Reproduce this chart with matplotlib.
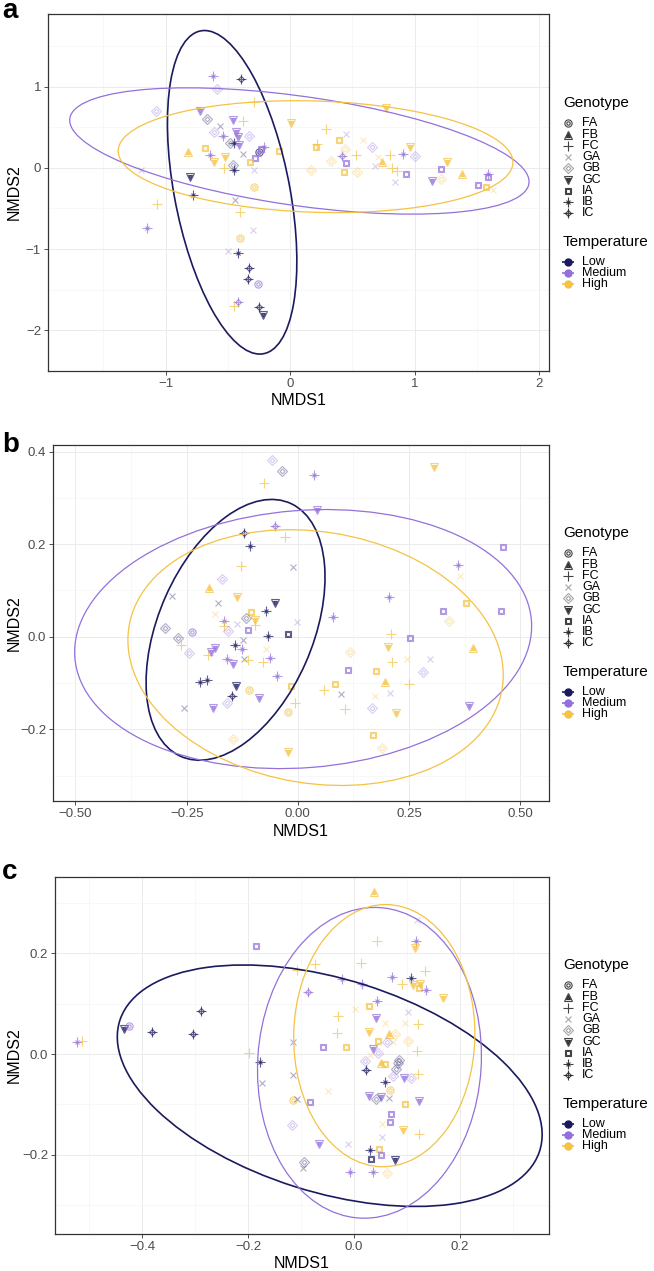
import numpy as np
import matplotlib
matplotlib.use("Agg")
import matplotlib.pyplot as plt
from matplotlib.patches import Ellipse
from matplotlib.lines import Line2D
from matplotlib.ticker import MultipleLocator, FixedLocator

plt.rcParams['font.family'] = ['Liberation Sans', 'DejaVu Sans']

W, H = 654, 1271

temps = ['Low', 'Medium', 'High']
temp_colors = {'Low': '#1B1A5E', 'Medium': '#9370DB', 'High': '#F5C242'}
genotypes = ['FA', 'FB', 'FC', 'GA', 'GB', 'GC', 'IA', 'IB', 'IC']

# ---- panel a: NMDS scores (x, y, temperature, genotype)
a_x = [-0.62, -0.39, -0.59, -0.29, -1.08, -0.72, -0.67, -0.46, -0.38, -0.56,
       -0.61, -0.43, -0.54, -0.33, -0.42, -0.48, -0.45, -0.41, -0.82, -0.68,
       -0.64, -0.61, -0.52, -0.53, -0.38, -0.25, -0.28, -0.21, -0.23, -0.26,
       -0.32, -0.46, -0.45, -0.29, -1.20, -0.80, -0.29, -0.78, -0.44, -1.07,
       -0.40, -1.15, -0.30, -0.40, -0.50, -0.42, -0.33, -0.34, -0.26, -0.42,
       -0.45, -0.25, -0.22, 0.01, -0.09, 0.77, 0.29, 0.39, 0.45, 0.22,
       0.21, 0.59, 0.44, 0.66, 0.96, 0.53, 0.42, 0.80, 0.91, 1.00,
       0.33, 0.45, 0.71, 0.74, 0.68, 0.82, 0.86, 0.17, 0.43, 0.54,
       0.93, 0.84, 1.21, 1.26, 1.21, 1.14, 1.38, 1.59, 1.59, 1.51, 1.57, 1.63]
a_y = [1.14, 1.10, 0.97, 0.81, 0.70, 0.70, 0.60, 0.59, 0.58, 0.52,
       0.45, 0.45, 0.40, 0.40, 0.38, 0.31, 0.31, 0.28, 0.20, 0.25,
       0.16, 0.08, 0.14, 0.00, 0.17, 0.20, 0.12, 0.26, 0.23, 0.17,
       0.07, 0.04, -0.03, -0.02, -0.02, -0.11, -0.24, -0.33, -0.40, -0.44,
       -0.54, -0.74, -0.77, -0.87, -1.03, -1.05, -1.23, -1.37, -1.43, -1.65,
       -1.70, -1.72, -1.81, 0.55, 0.21, 0.74, 0.48, 0.35, 0.42, 0.30,
       0.26, 0.35, 0.23, 0.26, 0.26, 0.16, 0.15, 0.16, 0.17, 0.15,
       0.09, 0.06, 0.13, 0.07, 0.02, 0.00, -0.04, -0.02, -0.05, -0.05,
       -0.07, -0.17, -0.01, 0.08, -0.13, -0.16, -0.07, -0.07, -0.11, -0.21, -0.24, -0.27]
a_temp = ['Medium', 'Low', 'Medium', 'High', 'Medium', 'Medium', 'Low', 'Medium', 'High', 'Low',
          'Medium', 'Medium', 'Medium', 'Medium', 'Medium', 'Low', 'Low', 'Medium', 'High', 'High',
          'Medium', 'High', 'High', 'High', 'Low', 'Low', 'Medium', 'Medium', 'Medium', 'Medium',
          'High', 'Low', 'Low', 'Medium', 'Medium', 'Low', 'High', 'Low', 'Low', 'High',
          'High', 'Medium', 'Medium', 'High', 'Medium', 'Low', 'Low', 'Low', 'Medium', 'Medium',
          'High', 'Low', 'Low', 'High', 'High', 'High', 'High', 'High', 'Medium', 'High',
          'High', 'High', 'High', 'Medium', 'High', 'High', 'Medium', 'High', 'Medium', 'Medium',
          'High', 'Medium', 'High', 'High', 'Medium', 'High', 'High', 'High', 'High', 'High',
          'Medium', 'Medium', 'Medium', 'High', 'High', 'Medium', 'High', 'Medium', 'Medium', 'Medium', 'High', 'High']
a_geno = ['IB', 'IC', 'GB', 'FC', 'GB', 'GC', 'GB', 'GC', 'FC', 'GA',
          'GB', 'GC', 'IB', 'GB', 'GC', 'GB', 'IB', 'GC', 'FB', 'IA',
          'IB', 'GC', 'GC', 'FC', 'GA', 'FA', 'IA', 'IB', 'IA', 'GA',
          'IA', 'GB', 'IB', 'GA', 'GA', 'GC', 'FA', 'IB', 'GA', 'FC',
          'FC', 'IB', 'GA', 'FA', 'GA', 'IB', 'IC', 'IC', 'FA', 'IC',
          'FC', 'IC', 'GC', 'GC', 'IA', 'GC', 'FC', 'IA', 'GA', 'FC',
          'IA', 'GA', 'GB', 'GB', 'GC', 'FC', 'IC', 'FC', 'IB', 'GB',
          'GB', 'IA', 'GA', 'FB', 'GA', 'FC', 'FC', 'GB', 'IA', 'GB',
          'IA', 'GA', 'IA', 'GC', 'GB', 'GC', 'FB', 'IB', 'IA', 'IA', 'IA', 'GA']

# ---- panel b
b_x = [-0.057, -0.036, 0.037, 0.307, -0.076, 0.043, -0.051, -0.028, -0.122, -0.107,
       -0.011, -0.127, -0.171, -0.199, -0.136, -0.283, -0.180, -0.052, -0.072, -0.106,
       -0.096, -0.117, -0.096, -0.186, -0.167, -0.167, -0.137, -0.157, -0.112, -0.002,
       -0.067, -0.022, -0.298, -0.270, -0.238, -0.262, -0.124, -0.141, -0.244, -0.201,
       -0.187, -0.195, -0.126, -0.121, -0.111, -0.160, -0.146, -0.071, -0.079, -0.062,
       -0.046, -0.219, -0.204, -0.139, -0.109, -0.016, -0.148, -0.088, -0.190, -0.160,
       -0.255, -0.006, -0.021, -0.145, -0.021, 0.079, 0.206, 0.209, 0.252, 0.204,
       0.211, 0.118, 0.112, 0.175, 0.196, 0.249, 0.084, 0.058, 0.097, 0.207,
       0.106, 0.168, 0.220, 0.170, 0.189, 0.174, 0.245, 0.297, 0.281, 0.361,
       0.365, 0.462, 0.327, 0.378, 0.458, 0.339, 0.395, 0.384]
b_y = [0.381, 0.359, 0.350, 0.366, 0.332, 0.275, 0.240, 0.216, 0.224, 0.196,
       0.150, 0.153, 0.124, 0.106, 0.087, 0.088, 0.072, 0.072, 0.056, 0.053,
       0.036, 0.041, 0.025, 0.050, 0.035, 0.023, 0.027, 0.013, 0.014, 0.032,
       0.001, 0.007, 0.018, -0.002, 0.011, -0.018, -0.007, -0.018, -0.036, -0.040,
       -0.025, -0.032, -0.027, -0.047, -0.050, -0.047, -0.058, -0.027, -0.054, -0.045,
       -0.084, -0.097, -0.094, -0.107, -0.114, -0.106, -0.128, -0.133, -0.155, -0.144,
       -0.153, -0.143, -0.162, -0.220, -0.249, 0.042, 0.087, 0.006, -0.002, -0.022,
       -0.054, -0.032, -0.072, -0.074, -0.097, -0.103, -0.103, -0.115, -0.124, -0.121,
       -0.157, -0.154, -0.164, -0.213, -0.240, -0.128, -0.047, -0.049, -0.076, 0.155,
       0.131, 0.195, 0.056, 0.074, 0.056, 0.034, -0.024, -0.150]
b_temp = ['Medium', 'Low', 'Medium', 'High', 'High', 'Medium', 'Medium', 'High', 'Low', 'Low',
          'Low', 'High', 'Medium', 'High', 'High', 'Low', 'Low', 'Low', 'Low', 'High',
          'High', 'Low', 'High', 'High', 'Medium', 'High', 'Medium', 'Medium', 'Medium', 'Medium',
          'Low', 'Low', 'Low', 'Low', 'Medium', 'High', 'Low', 'Low', 'Medium', 'High',
          'Medium', 'Medium', 'Medium', 'Low', 'High', 'Medium', 'Medium', 'High', 'High', 'Medium',
          'Medium', 'Low', 'Low', 'Low', 'High', 'High', 'Low', 'Medium', 'Medium', 'Medium',
          'Low', 'High', 'High', 'High', 'High', 'Medium', 'Medium', 'High', 'Medium', 'High',
          'High', 'High', 'Medium', 'High', 'High', 'High', 'High', 'High', 'Low', 'Medium',
          'High', 'Medium', 'High', 'High', 'High', 'High', 'High', 'Medium', 'Medium', 'Medium',
          'High', 'Medium', 'Medium', 'High', 'Medium', 'High', 'High', 'Medium']
b_geno = ['GB', 'GB', 'IB', 'GC', 'FC', 'GC', 'IC', 'FC', 'IC', 'IB',
          'GA', 'FC', 'GB', 'FB', 'GC', 'GA', 'GA', 'GC', 'IB', 'IA',
          'GC', 'GB', 'FC', 'GA', 'IB', 'FC', 'GA', 'GB', 'IA', 'GA',
          'IB', 'IA', 'GB', 'GB', 'FA', 'FC', 'GA', 'IB', 'GB', 'FC',
          'GC', 'GC', 'IB', 'GA', 'FC', 'IB', 'GC', 'GA', 'FC', 'IB',
          'IB', 'IB', 'IB', 'GC', 'FA', 'IA', 'IC', 'GC', 'GC', 'GB',
          'GA', 'FC', 'FA', 'GB', 'GC', 'IB', 'IB', 'FC', 'IA', 'GC',
          'FC', 'GB', 'IA', 'IA', 'FB', 'FC', 'IA', 'FC', 'GA', 'GA',
          'FC', 'GB', 'GC', 'IA', 'GB', 'GA', 'GA', 'GA', 'GB', 'IB',
          'GA', 'IA', 'IA', 'IA', 'IA', 'GB', 'FB', 'GC']

# ---- panel c
c_x = [0.038, -0.186, 0.043, 0.116, 0.115, 0.118, -0.073, 0.013, -0.108, 0.134,
       -0.023, 0.014, 0.071, 0.107, 0.091, 0.112, 0.124, 0.123, 0.135, 0.168,
       -0.087, 0.044, 0.029, 0.002, 0.101, -0.289, -0.030, 0.041, 0.058, 0.096,
       0.121, -0.435, -0.425, -0.381, -0.305, -0.523, -0.513, -0.033, 0.028, 0.066,
       0.077, 0.102, -0.058, -0.015, 0.046, 0.062, 0.074, 0.035, 0.046, -0.116,
       -0.199, -0.177, 0.118, 0.030, 0.021, 0.050, 0.058, 0.084, 0.082, 0.023,
       0.079, -0.116, 0.058, 0.073, 0.095, 0.107, 0.120, -0.173, -0.050, 0.068,
       0.029, 0.050, 0.041, 0.066, 0.122, -0.116, -0.108, -0.084, 0.096, 0.070,
       0.068, 0.053, 0.093, 0.122, -0.117, 0.053, -0.066, -0.011, 0.030, 0.047,
       0.051, 0.031, 0.077, -0.095, -0.097, -0.008, 0.036, 0.062]
c_y = [0.321, 0.215, 0.225, 0.225, 0.210, 0.266, 0.178, 0.181, 0.167, 0.165,
       0.149, 0.140, 0.154, 0.152, 0.140, 0.137, 0.140, 0.132, 0.128, 0.112,
       0.124, 0.105, 0.095, 0.089, 0.084, 0.086, 0.075, 0.072, 0.061, 0.062,
       0.059, 0.049, 0.056, 0.044, 0.039, 0.023, 0.025, 0.042, 0.044, 0.039,
       0.039, 0.026, 0.013, 0.013, 0.025, 0.023, 0.023, 0.010, 0.003, 0.023,
       0.003, -0.015, 0.005, -0.002, -0.013, -0.017, -0.020, -0.011, -0.017, -0.032,
       -0.030, -0.042, -0.055, -0.044, -0.048, -0.048, -0.040, -0.058, -0.073, -0.072,
       -0.083, -0.085, -0.090, -0.088, -0.093, -0.091, -0.090, -0.096, -0.099, -0.120,
       -0.136, -0.139, -0.150, -0.159, -0.142, -0.164, -0.179, -0.179, -0.191, -0.189,
       -0.201, -0.209, -0.211, -0.215, -0.227, -0.235, -0.234, -0.237]
c_temp = ['High', 'Medium', 'High', 'Medium', 'High', 'Medium', 'High', 'High', 'High', 'High',
          'Medium', 'Medium', 'Medium', 'Low', 'High', 'High', 'High', 'High', 'Medium', 'High',
          'Medium', 'Medium', 'High', 'High', 'Medium', 'Low', 'High', 'Medium', 'High', 'High',
          'High', 'Low', 'Medium', 'Low', 'Low', 'Medium', 'High', 'High', 'High', 'High',
          'High', 'High', 'Medium', 'High', 'High', 'Medium', 'High', 'Medium', 'Medium', 'Low',
          'High', 'Low', 'High', 'High', 'Medium', 'High', 'High', 'Low', 'Low', 'Low',
          'Low', 'Low', 'Low', 'Medium', 'Medium', 'Medium', 'High', 'Low', 'High', 'High',
          'Medium', 'Medium', 'Low', 'Low', 'Medium', 'High', 'Low', 'Medium', 'High', 'Medium',
          'Medium', 'High', 'High', 'High', 'Medium', 'Medium', 'Medium', 'Medium', 'Low', 'High',
          'Medium', 'Low', 'Low', 'Low', 'Low', 'Medium', 'Medium', 'High']
c_geno = ['FB', 'IA', 'FC', 'IB', 'GC', 'GA', 'FC', 'FC', 'FC', 'FC',
          'IB', 'IB', 'IB', 'IB', 'FC', 'GC', 'GC', 'IA', 'IB', 'GC',
          'IC', 'IB', 'IA', 'GA', 'GA', 'IC', 'FC', 'GC', 'GA', 'GA',
          'FC', 'GC', 'FA', 'IC', 'IC', 'IB', 'FC', 'FC', 'GC', 'FB',
          'GB', 'GB', 'IA', 'IA', 'IA', 'GB', 'GA', 'GC', 'GB', 'GA',
          'FC', 'IB', 'FC', 'GA', 'GB', 'FB', 'IA', 'GB', 'GB', 'IC',
          'GB', 'GA', 'IB', 'GB', 'GC', 'GB', 'FC', 'GA', 'GA', 'FA',
          'GC', 'GC', 'GB', 'GA', 'GC', 'FA', 'GA', 'IA', 'IA', 'IA',
          'IA', 'GA', 'GC', 'FC', 'GB', 'GA', 'GC', 'GA', 'IB', 'IA',
          'IA', 'IA', 'GC', 'GB', 'GA', 'IB', 'IB', 'GB']

# ---- 95% ellipses per temperature: centre x, centre y, semi-axis a, semi-axis b, angle (deg)
a_ell = {'Low': (-0.465, -0.30, 2.01, 0.467, 96.7),
         'Medium': (0.075, 0.21, 1.889, 0.665, -13.3),
         'High': (0.205, 0.14, 1.587, 0.686, -3.1)}
b_ell = {'Low': (-0.14, 0.015, 0.300, 0.173, 65.2),
         'Medium': (0.012, -0.005, 0.515, 0.278, 4.4),
         'High': (0.04, -0.045, 0.425, 0.272, -8.7)}
c_ell = {'Low': (-0.046, -0.063, 0.417, 0.211, -18.5),
         'Medium': (0.029, -0.0175, 0.309, 0.211, 86.6),
         'High': (0.057, 0.0365, 0.2605, 0.171, 89.0)}

# marker recipes: (marker, size, filled)
shape_parts = {
    'FA': [('o', 5.2, False), ('o', 2.4, False)],
    'FB': [('^', 6.2, False), ('^', 3.0, True)],
    'FC': [('+', 7.0, False)],
    'GA': [('x', 5.0, False)],
    'GB': [('D', 5.0, False), ('D', 2.4, False)],
    'GC': [('v', 6.2, False), ('v', 3.0, True)],
    'IA': [('s', 5.0, False), ('s', 2.2, False)],
    'IB': [('+', 7.0, False), ('x', 3.2, False)],
    'IC': [('+', 7.5, False), ('D', 3.0, False)],
}
faint = {'GA': 0.35, 'GB': 0.35}


def draw_marker(ax, x, y, geno, color, transform=None, alpha=None):
    a = alpha if alpha is not None else faint.get(geno, 0.7)
    kw = {}
    if transform is not None:
        kw['transform'] = transform
    for m, ms, filled in shape_parts[geno]:
        ln = Line2D(np.atleast_1d(x), np.atleast_1d(y), linestyle='none', marker=m,
                    markersize=ms, markeredgecolor=color,
                    markerfacecolor=color if filled else 'none',
                    markeredgewidth=0.8, alpha=a, **kw)
        if transform is None:
            ax.add_line(ln)
        else:
            ax.add_artist(ln)


def px(x0, y0, x1, y1):
    return [x0 / W, 1 - y1 / H, (x1 - x0) / W, (y1 - y0) / H]


fig = plt.figure(figsize=(W / 100, H / 100), dpi=100)

panels = [
    dict(label='a', tag_y=18, rect=(48, 14, 549, 371), xs=a_x, ys=a_y, ts=a_temp, gs=a_geno, ell=a_ell,
         xlim=(-1.944, 2.08), ylim=(-2.506, 1.901), xt=[-1, 0, 1, 2], yt=[-2, -1, 0, 1],
         xfmt='{:g}', yfmt='{:g}', xminor=0.5, yminor=0.5, loff=0),
    dict(label='b', tag_y=452, rect=(53, 445, 549, 801), xs=b_x, ys=b_y, ts=b_temp, gs=b_geno, ell=b_ell,
         xlim=(-0.5506, 0.565), ylim=(-0.355, 0.4145), xt=[-0.5, -0.25, 0, 0.25, 0.5],
         yt=[-0.2, 0, 0.2, 0.4], xfmt='{:.2f}', yfmt='{:.1f}', xminor=0.125, yminor=0.1, loff=430),
    dict(label='c', tag_y=879, rect=(55, 877, 549, 1234), xs=c_x, ys=c_y, ts=c_temp, gs=c_geno, ell=c_ell,
         xlim=(-0.5647, 0.368), ylim=(-0.3576, 0.3517), xt=[-0.4, -0.2, 0, 0.2],
         yt=[-0.2, 0, 0.2], xfmt='{:.1f}', yfmt='{:.1f}', xminor=0.1, yminor=0.1, loff=862),
]


def fmt(f, v):
    s = f.format(v)
    if s.startswith('-'):
        s = '\u2212' + s[1:]
    if s in ('\u22120.00', '\u22120.0', '\u22120'):
        s = s[1:]
    return s


for p in panels:
    x0, y0, x1, y1 = p['rect']
    ax = fig.add_axes(px(x0, y0, x1, y1))
    ax.set_xlim(*p['xlim'])
    ax.set_ylim(*p['ylim'])
    ax.xaxis.set_major_locator(FixedLocator(p['xt']))
    ax.yaxis.set_major_locator(FixedLocator(p['yt']))
    ax.xaxis.set_minor_locator(MultipleLocator(p['xminor']))
    ax.yaxis.set_minor_locator(MultipleLocator(p['yminor']))
    ax.set_xticklabels([fmt(p['xfmt'], v) for v in p['xt']])
    ax.set_yticklabels([fmt(p['yfmt'], v) for v in p['yt']])
    ax.tick_params(which='major', length=3, width=0.6, color='#333333',
                   labelcolor='#4D4D4D', labelsize=9.5, pad=2)
    ax.tick_params(which='minor', length=0)
    ax.grid(which='major', color='#EBEBEB', linewidth=0.7)
    ax.grid(which='minor', color='#F5F5F5', linewidth=0.5)
    ax.set_axisbelow(True)
    for s in ax.spines.values():
        s.set_color('#333333')
        s.set_linewidth(0.9)

    for t in temps:
        cx, cy, sa, sb, ang = p['ell'][t]
        ax.add_patch(Ellipse((cx, cy), 2 * sa, 2 * sb, angle=ang, fill=False,
                             edgecolor=temp_colors[t], linewidth=1.2 if t == 'Low' else 0.9,
                             zorder=3))

    for x, y, t, g in zip(p['xs'], p['ys'], p['ts'], p['gs']):
        draw_marker(ax, x, y, g, temp_colors[t])

    # axis titles and panel tag
    fig.text(14 / W, 1 - (y0 + y1) / 2 / H, 'NMDS2', rotation=90, ha='center', va='center',
             fontsize=11.5)
    fig.text((x0 + x1) / 2 / W, 1 - (y1 + 30) / H, 'NMDS1', ha='center', va='center',
             fontsize=11.5)
    fig.text(2 / W, 1 - p['tag_y'] / H, p['label'], ha='left', va='baseline',
             fontsize=20, fontweight='bold')

    # legend
    off = p['loff']
    fig.text(563 / W, 1 - (103 + off) / H, 'Genotype', ha='left', va='center', fontsize=11)
    for i, g in enumerate(genotypes):
        yy = 1 - (123.3 + 11.25 * i + off) / H
        draw_marker(fig, 568 / W, yy, g, '#222222', transform=fig.transFigure,
                    alpha=0.4 if g in faint else 0.85)
        fig.text(582 / W, yy, g, ha='left', va='center', fontsize=9)
    fig.text(563 / W, 1 - (242 + off) / H, 'Temperature', ha='left', va='center', fontsize=11)
    for i, t in enumerate(temps):
        yy = 1 - (262 + 10.8 * i + off) / H
        fig.add_artist(Line2D([568 / W], [yy], transform=fig.transFigure, marker='o',
                              markersize=5, color=temp_colors[t], linestyle='none'))
        fig.add_artist(Line2D([568 / W], [yy], transform=fig.transFigure, marker='_',
                              markersize=8, color=temp_colors[t], markeredgewidth=1.2,
                              linestyle='none'))
        fig.text(582 / W, yy, t, ha='left', va='center', fontsize=9)

fig.savefig('out.png', dpi=100)
